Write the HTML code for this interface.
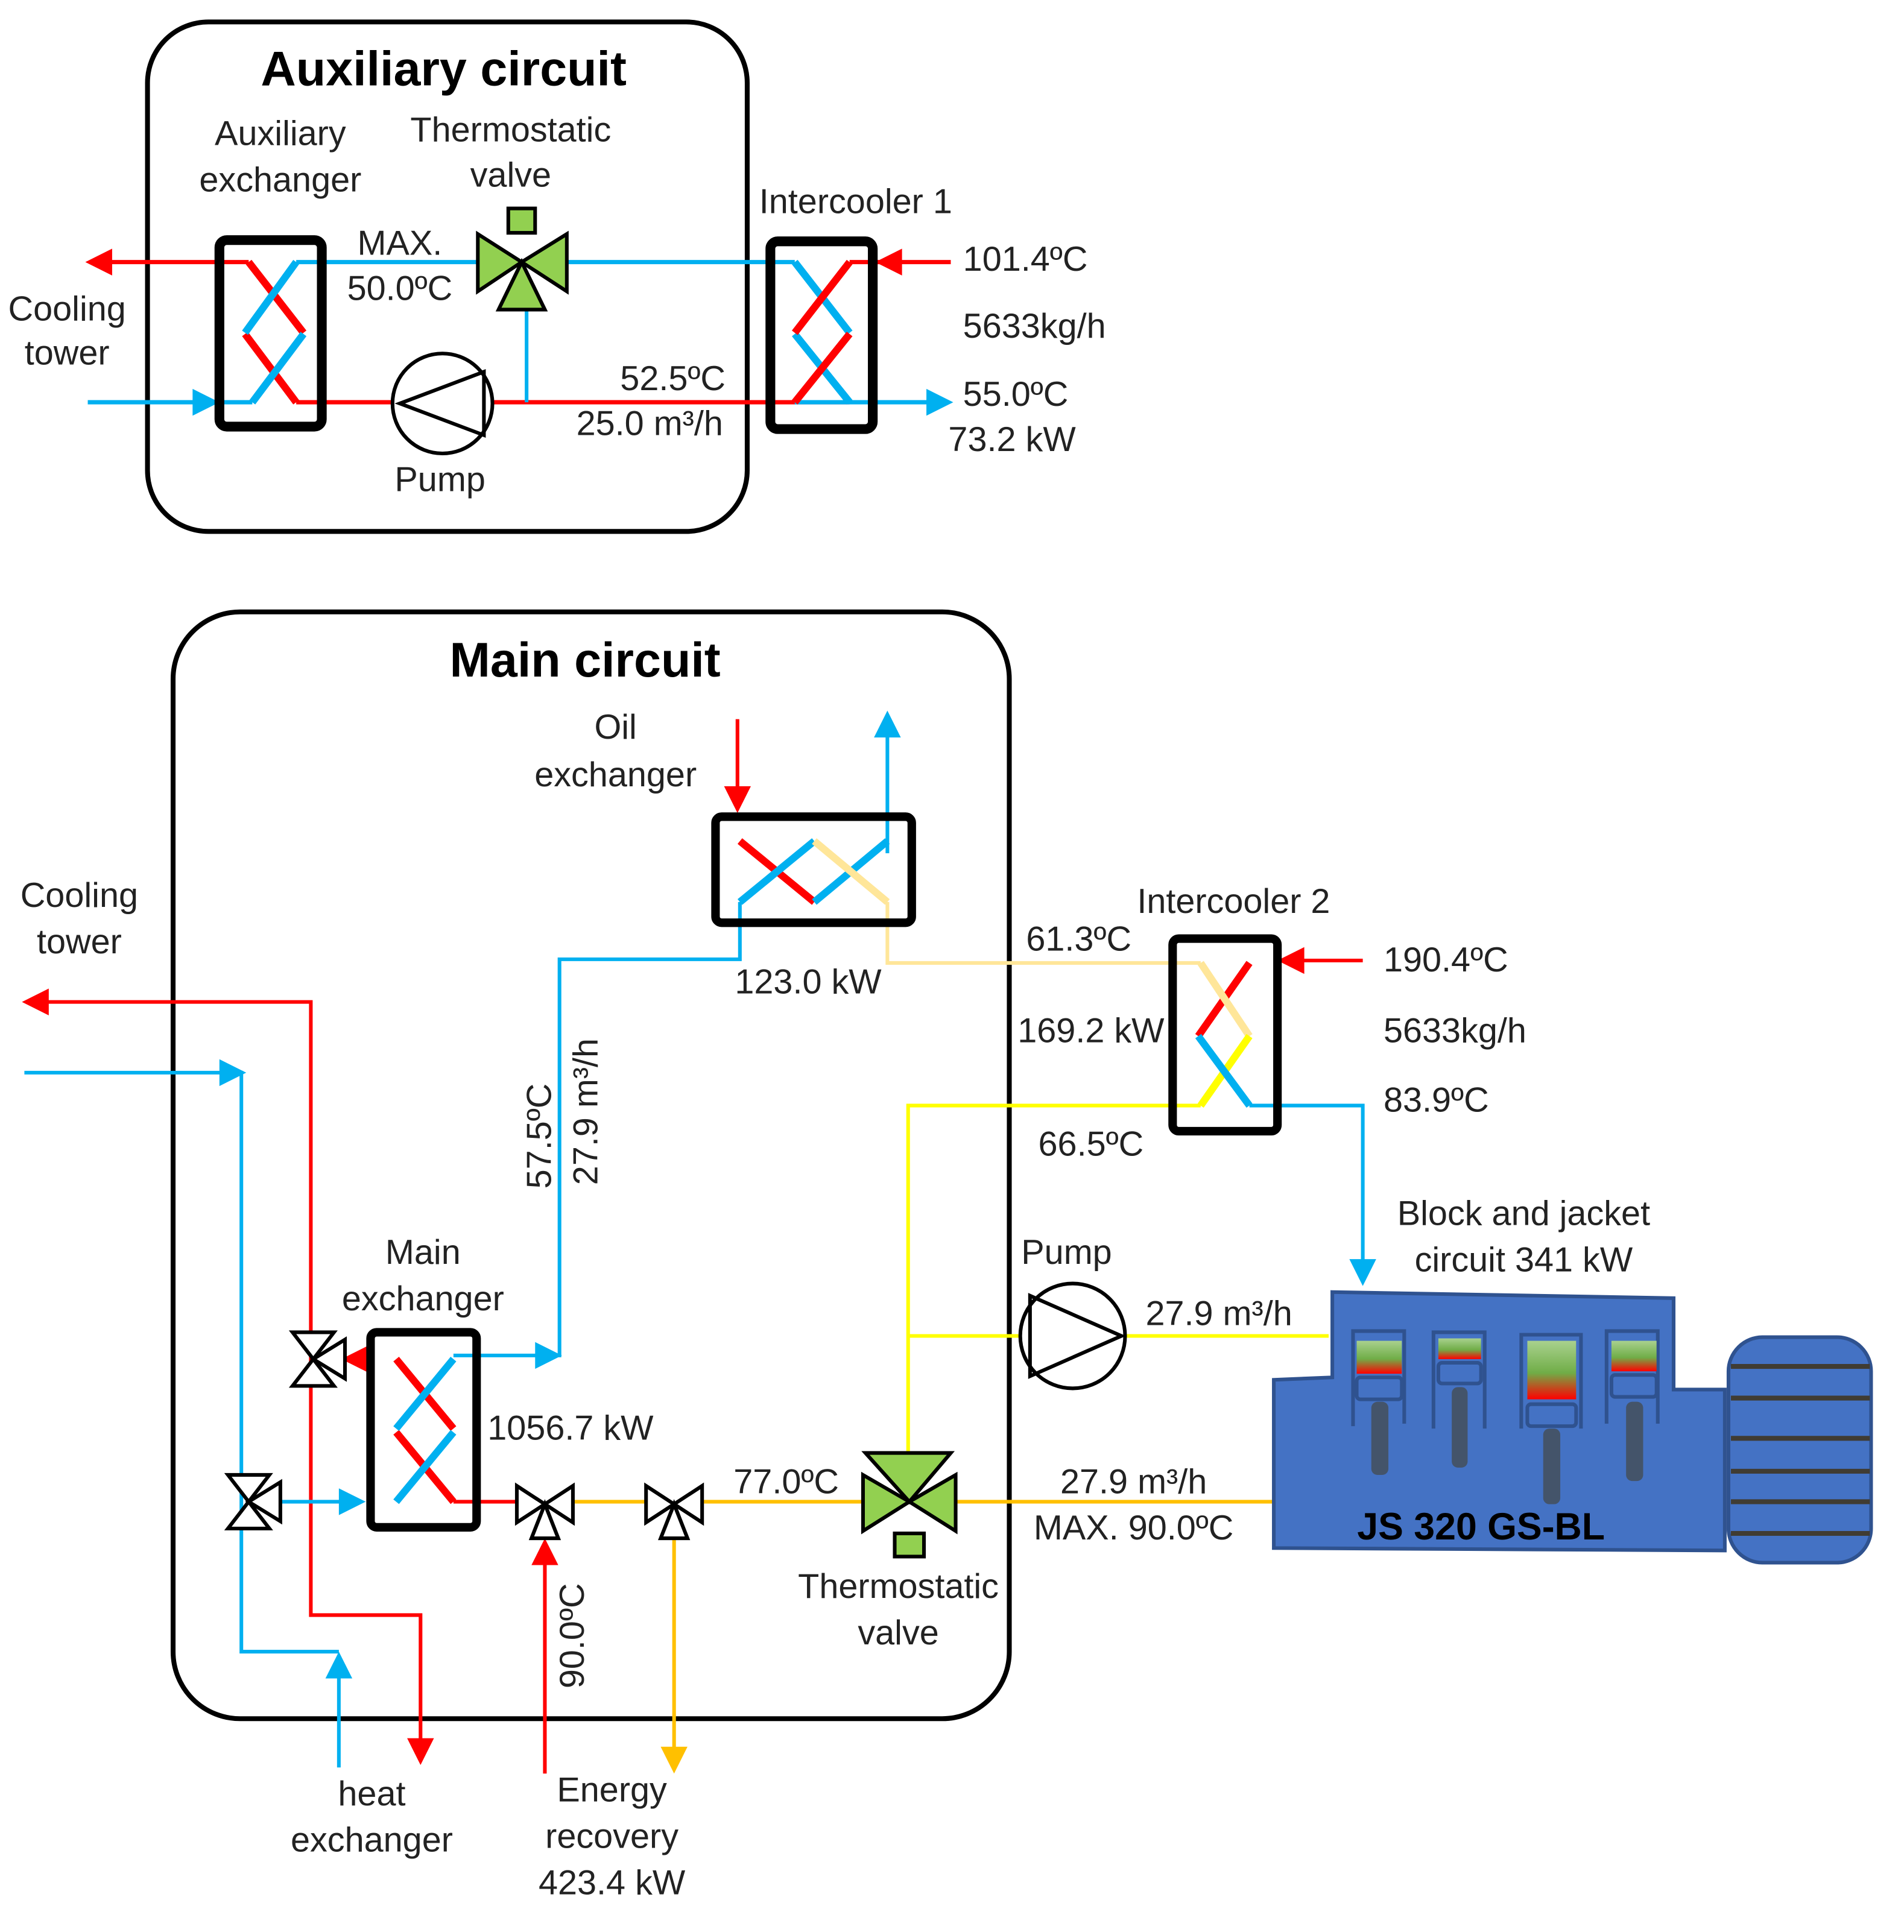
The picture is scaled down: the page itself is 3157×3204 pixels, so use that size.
<!DOCTYPE html>
<html><head><meta charset="utf-8"><style>
html,body{margin:0;padding:0;background:#fff}
svg{display:block}
text{font-family:"Liberation Sans",sans-serif;font-size:28.5px;fill:#222}
.b{font-weight:bold;fill:#000;font-size:40px}
.m{text-anchor:middle}
</style></head><body>
<svg width="3157" height="3204" viewBox="0 0 1562 1585" preserveAspectRatio="none" xmlns="http://www.w3.org/2000/svg">
<defs>
<linearGradient id="g" x1="0" y1="0" x2="0" y2="1"><stop offset="0" stop-color="#a9d18e"/><stop offset="0.55" stop-color="#70ad47"/><stop offset="1" stop-color="#ff0000"/></linearGradient>
<g id="vv" fill="#fff" stroke="#000" stroke-width="3" stroke-linejoin="miter">
<polygon points="-17,-22 17,-22 0,0"/><polygon points="-17,22 17,22 0,0"/><polygon points="0,0 26,-16 26,16"/></g>
<g id="hv" fill="#fff" stroke="#000" stroke-width="3" stroke-linejoin="miter">
<polygon points="-23,-15 -23,15 0,0"/><polygon points="23,-15 23,15 0,0"/><polygon points="0,0 -11,28 11,28"/></g>
</defs>

<!-- AUX BOX -->
<rect x="121" y="18" width="492" height="418" rx="50" fill="none" stroke="#000" stroke-width="4"/>
<text class="b m" x="364" y="70">Auxiliary circuit</text>
<text class="m" x="230" y="119">Auxiliary</text><text class="m" x="230" y="157">exchanger</text>
<text class="m" x="419" y="116">Thermostatic</text><text class="m" x="419" y="153">valve</text>
<text class="m" x="702" y="175">Intercooler 1</text>
<text class="m" x="55" y="263">Cooling</text><text class="m" x="55" y="299">tower</text>
<text class="m" x="328" y="209">MAX.</text><text class="m" x="328" y="246">50.0ºC</text>
<text class="m" x="552" y="320">52.5ºC</text><text class="m" x="533" y="357">25.0 m³/h</text>
<text class="m" x="361" y="403">Pump</text>
<text x="790" y="222">101.4ºC</text><text x="790" y="277">5633kg/h</text>
<text x="790" y="333">55.0ºC</text><text x="778" y="370">73.2 kW</text>

<!-- aux pipes -->
<g fill="none" stroke-width="3.5">
<path d="M90,215 H204" stroke="#ff0000"/>
<path d="M72,330 H207" stroke="#00b0f0"/>
<path d="M243,215 H652" stroke="#00b0f0"/>
<path d="M243,330 H322 M405,330 H697" stroke="#ff0000"/>
<path d="M432,254 V330" stroke="#00b0f0" stroke-width="3"/>
<path d="M697,215 H780" stroke="#ff0000"/>
<path d="M652,330 H768" stroke="#00b0f0"/>
</g>
<polygon points="70,215 92,204 92,226" fill="#ff0000"/>
<polygon points="180,330 158,319 158,341" fill="#00b0f0"/>
<polygon points="718,215 740,204 740,226" fill="#ff0000"/>
<polygon points="782,330 760,319 760,341" fill="#00b0f0"/>
<!-- aux exchanger -->
<g stroke-width="6" fill="none">
<path d="M204,215 L249,273 M201,274 L243,330" stroke="#ff0000"/>
<path d="M243,215 L201,273 M249,274 L207,330" stroke="#00b0f0"/>
</g>
<rect x="180" y="197" width="84" height="153" rx="6" fill="none" stroke="#000" stroke-width="8"/>
<!-- intercooler 1 -->
<g stroke-width="6" fill="none">
<path d="M652,215 L697,273 M652,274 L697,330" stroke="#00b0f0"/>
<path d="M697,215 L652,273 M697,274 L652,330" stroke="#ff0000"/>
</g>
<rect x="632" y="198" width="84" height="154" rx="6" fill="none" stroke="#000" stroke-width="8"/>
<!-- pump aux -->
<circle cx="363" cy="331" r="41" fill="#fff" stroke="#000" stroke-width="3"/>
<path d="M328,331 L397,305 V357 Z" fill="none" stroke="#000" stroke-width="3"/>
<!-- valve aux -->
<g fill="#92d050" stroke="#000" stroke-width="3">
<polygon points="392,192 392,239 428,215"/>
<polygon points="465,192 465,239 428,215"/>
<polygon points="428,215 409,254 447,254"/>
<rect x="417" y="171" width="22" height="20"/>
</g>

<!-- MAIN BOX -->
<rect x="142" y="502" width="686" height="908" rx="55" fill="none" stroke="#000" stroke-width="4"/>
<text class="b m" x="480" y="555">Main circuit</text>
<text class="m" x="505" y="606">Oil</text><text class="m" x="505" y="645">exchanger</text>
<text class="m" x="663" y="815">123.0 kW</text>
<text class="m" x="1012" y="749">Intercooler 2</text>
<text class="m" x="885" y="780">61.3ºC</text>
<text class="m" x="895" y="855">169.2 kW</text>
<text class="m" x="895" y="948">66.5ºC</text>
<text x="1135" y="797">190.4ºC</text><text x="1135" y="855">5633kg/h</text><text x="1135" y="912">83.9ºC</text>
<text class="m" x="1250" y="1005">Block and jacket</text><text class="m" x="1250" y="1043">circuit 341 kW</text>
<text class="m" x="875" y="1037">Pump</text>
<text class="m" x="1000" y="1087">27.9 m³/h</text>
<text class="m" x="65" y="744">Cooling</text><text class="m" x="65" y="782">tower</text>
<text class="m" x="347" y="1037">Main</text><text class="m" x="347" y="1075">exchanger</text>
<text class="m" x="468" y="1181">1056.7 kW</text>
<text class="m" x="645" y="1225">77.0ºC</text>
<text class="m" x="930" y="1225">27.9 m³/h</text>
<text class="m" x="930" y="1263">MAX. 90.0ºC</text>
<text class="m" x="737" y="1311">Thermostatic</text><text class="m" x="737" y="1349">valve</text>
<text class="m" x="305" y="1481">heat</text><text class="m" x="305" y="1519">exchanger</text>
<text class="m" x="502" y="1478">Energy</text><text class="m" x="502" y="1516">recovery</text><text class="m" x="502" y="1554">423.4 kW</text>
<text class="m" transform="translate(452,932) rotate(-90)">57.5ºC</text>
<text class="m" transform="translate(490,912) rotate(-90)">27.9 m³/h</text>
<text class="m" transform="translate(479,1342) rotate(-90)">90.0ºC</text>

<!-- main pipes -->
<g fill="none" stroke-width="3">
<path d="M38,822 H255 V1325 H345 V1430" stroke="#ff0000"/>
<path d="M285,1115 H257" stroke="#ff0000"/>
<path d="M20,880 H198 V1355 H278 M278,1450 V1375" stroke="#00b0f0"/>
<path d="M220,1232 H290" stroke="#00b0f0"/>
<path d="M372,1112 H459 V787 H607 V740" stroke="#00b0f0"/>
<path d="M728,700 V605" stroke="#00b0f0"/>
<path d="M605,590 V650" stroke="#ff0000"/>
<path d="M728,740 V790 H985" stroke="#ffe699"/>
<path d="M985,907 H745 V1192 M745,1096 H838 M924,1096 H1090" stroke="#ffff00"/>
<path d="M1025,907 H1118 V1035" stroke="#00b0f0"/>
<path d="M1050,788 H1118" stroke="#ff0000"/>
<path d="M372,1232 H430" stroke="#ff0000"/>
<path d="M447,1455 V1280" stroke="#ff0000"/>
<path d="M465,1232 H536 M570,1232 H707 M785,1232 H1045 M553,1250 V1435" stroke="#ffc000"/>
</g>
<polygon points="18,822 40,811 40,833" fill="#ff0000"/>
<polygon points="202,880 180,869 180,891" fill="#00b0f0"/>
<polygon points="345,1448 334,1426 356,1426" fill="#ff0000"/>
<polygon points="278,1355 267,1377 289,1377" fill="#00b0f0"/>
<polygon points="300,1232 278,1221 278,1243" fill="#00b0f0"/>
<polygon points="280,1115 302,1104 302,1126" fill="#ff0000"/>
<polygon points="461,1112 439,1101 439,1123" fill="#00b0f0"/>
<polygon points="728,583 717,605 739,605" fill="#00b0f0"/>
<polygon points="605,667 594,645 616,645" fill="#ff0000"/>
<polygon points="1048,788 1070,777 1070,799" fill="#ff0000"/>
<polygon points="1118,1055 1107,1033 1129,1033" fill="#00b0f0"/>
<polygon points="447,1262 436,1284 458,1284" fill="#ff0000"/>
<polygon points="553,1455 542,1433 564,1433" fill="#ffc000"/>

<!-- oil exchanger -->
<g stroke-width="6" fill="none">
<path d="M607,690 L668,740" stroke="#ff0000"/>
<path d="M607,740 L668,690" stroke="#00b0f0"/>
<path d="M668,740 L728,690" stroke="#00b0f0"/>
<path d="M668,690 L728,740" stroke="#ffe699"/>
</g>
<rect x="587" y="670" width="161" height="87" rx="5" fill="none" stroke="#000" stroke-width="7"/>
<!-- intercooler 2 -->
<g stroke-width="6" fill="none">
<path d="M1025,790 L983,850" stroke="#ff0000"/>
<path d="M985,790 L1025,850" stroke="#ffe699"/>
<path d="M1025,850 L985,907" stroke="#ffff00"/>
<path d="M983,850 L1025,907" stroke="#00b0f0"/>
</g>
<rect x="962" y="770" width="86" height="158" rx="5" fill="none" stroke="#000" stroke-width="7"/>
<!-- main exchanger -->
<g stroke-width="6" fill="none">
<path d="M325,1115 L372,1172 M325,1175 L372,1232" stroke="#ff0000"/>
<path d="M372,1115 L325,1172 M372,1175 L325,1232" stroke="#00b0f0"/>
</g>
<rect x="304" y="1093" width="87" height="160" rx="5" fill="none" stroke="#000" stroke-width="7"/>

<!-- small valves -->
<use href="#vv" x="257" y="1115"/>
<use href="#vv" x="204" y="1232"/>
<use href="#hv" x="447" y="1234"/>
<use href="#hv" x="553" y="1234"/>

<!-- pump main -->
<circle cx="880" cy="1096" r="43" fill="#fff" stroke="#000" stroke-width="3"/>
<path d="M845,1063 V1129 L920,1096 Z" fill="none" stroke="#000" stroke-width="3"/>
<!-- thermostatic valve main -->
<g fill="#92d050" stroke="#000" stroke-width="3">
<polygon points="708,1210 708,1256 746,1232"/>
<polygon points="784,1210 784,1256 746,1232"/>
<polygon points="746,1232 710,1192 780,1192"/>
<rect x="734" y="1258" width="24" height="19"/>
</g>

<!-- engine -->
<path d="M1093,1060 L1373,1065 L1373,1140 L1415,1140 L1415,1272 L1045,1270 L1045,1132 L1093,1130 Z" fill="#4472c4" stroke="#2f528f" stroke-width="3"/>
<rect x="1418" y="1097" width="117" height="185" rx="28" fill="#4472c4" stroke="#2f528f" stroke-width="3"/>
<g stroke="#403c33" stroke-width="4">
<path d="M1420,1121 H1534 M1420,1147 H1534 M1420,1180 H1534 M1420,1207 H1534 M1420,1232 H1534 M1420,1258 H1534"/>
</g>
<g fill="none" stroke="#2f528f" stroke-width="3">
<path d="M1110,1170 V1092 H1152 V1168"/>
<path d="M1176,1172 V1093 H1218 V1172"/>
<path d="M1248,1172 V1095 H1297 V1172"/>
<path d="M1318,1168 V1092 H1360 V1168"/>
</g>
<rect x="1113" y="1100" width="37" height="27" fill="url(#g)"/>
<rect x="1180" y="1098" width="35" height="17" fill="url(#g)"/>
<rect x="1253" y="1100" width="40" height="48" fill="url(#g)"/>
<rect x="1322" y="1100" width="37" height="25" fill="url(#g)"/>
<g fill="#4472c4" stroke="#2f528f" stroke-width="3">
<rect x="1113" y="1130" width="37" height="18" rx="3"/>
<rect x="1180" y="1118" width="35" height="17" rx="3"/>
<rect x="1253" y="1152" width="40" height="18" rx="3"/>
<rect x="1322" y="1128" width="37" height="18" rx="3"/>
</g>
<g fill="#44546a">
<rect x="1125" y="1150" width="14" height="60" rx="5"/>
<rect x="1191" y="1138" width="13" height="66" rx="5"/>
<rect x="1266" y="1172" width="14" height="62" rx="5"/>
<rect x="1334" y="1150" width="14" height="65" rx="5"/>
</g>
<text class="m" x="1215" y="1263" style="font-weight:bold;font-size:31px;fill:#000">JS 320 GS-BL</text>
</svg>
</body></html>
